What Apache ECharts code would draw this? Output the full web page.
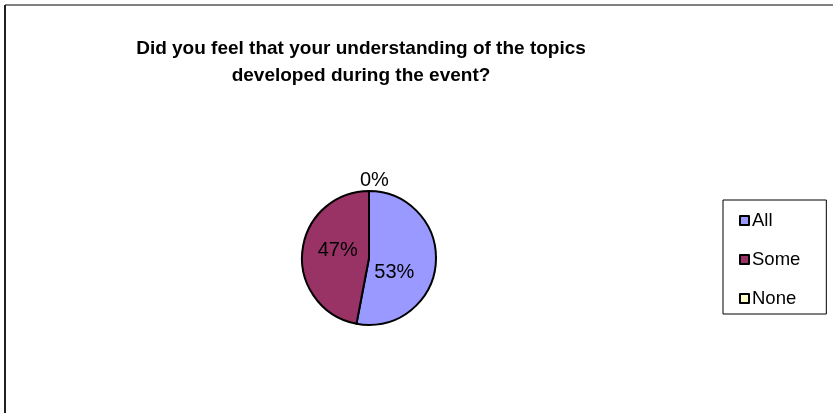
<!DOCTYPE html>
<html><head><meta charset="utf-8">
<script src="https://cdn.jsdelivr.net/npm/echarts@6/dist/echarts.min.js"></script>
<style>html,body{margin:0;padding:0;background:#fff}#c{width:833px;height:413px}</style>
</head><body><div id="c"></div>
<script>
var categories = ['All', 'Some', 'None'];
var values = [53, 47, 0];
var colors = ['#9999FF', '#993366', '#FFFFCC'];
var titleText = 'Did you feel that your understanding of the topics\ndeveloped during the event?';

var chart = echarts.init(document.getElementById('c'));
var data = categories.map(function (c, i) {
  var d = { name: c, value: values[i], itemStyle: { color: colors[i] } };
  if (values[i] === 0) {
    d.label = { position: 'outside' };
    d.labelLine = { show: false };
  }
  return d;
});
var labelShift = [[-11, 11], [5, -4], [-9, -7]];
chart.setOption({
  animation: false,
  title: {
    text: titleText, left: 356, top: 30, textAlign: 'center',
    textStyle: { fontFamily: 'Liberation Sans, Arial', fontSize: 19, fontWeight: 'bold', color: '#000', lineHeight: 27 }
  },
  legend: {
    orient: 'vertical', left: 723, top: 200,
    padding: [11, 26, 6, 16], itemGap: 20,
    borderColor: '#000', borderWidth: 1,
    icon: 'rect', itemWidth: 9, itemHeight: 9,
    itemStyle: { borderColor: '#000', borderWidth: 2 },
    textStyle: { fontFamily: 'Liberation Sans, Arial', fontSize: 18.5, color: '#000', padding: [0, 0, 0, -2] },
    data: categories
  },
  graphic: [
    { type: 'line', shape: { x1: 5, y1: 5, x2: 833, y2: 5 }, style: { stroke: '#808080', lineWidth: 2 } },
    { type: 'line', shape: { x1: 5, y1: 5, x2: 5, y2: 413 }, style: { stroke: '#222', lineWidth: 2 } }
  ],
  series: [{
    type: 'pie', center: [369, 258], radius: 67, startAngle: 90, clockwise: true,
    avoidLabelOverlap: false, stillShowZeroSum: true,
    itemStyle: { borderColor: '#000', borderWidth: 2 },
    label: {
      show: true, position: 'inside', formatter: '{c}%',
      fontFamily: 'Liberation Sans, Arial', fontSize: 20, color: '#000', distanceToLabelLine: 0
    },
    labelLine: { show: false, length: 4, length2: 0 },
    labelLayout: function (p) {
      var s = labelShift[p.dataIndex];
      return { dx: s[0], dy: s[1] };
    },
    data: data
  }]
});
</script></body></html>
